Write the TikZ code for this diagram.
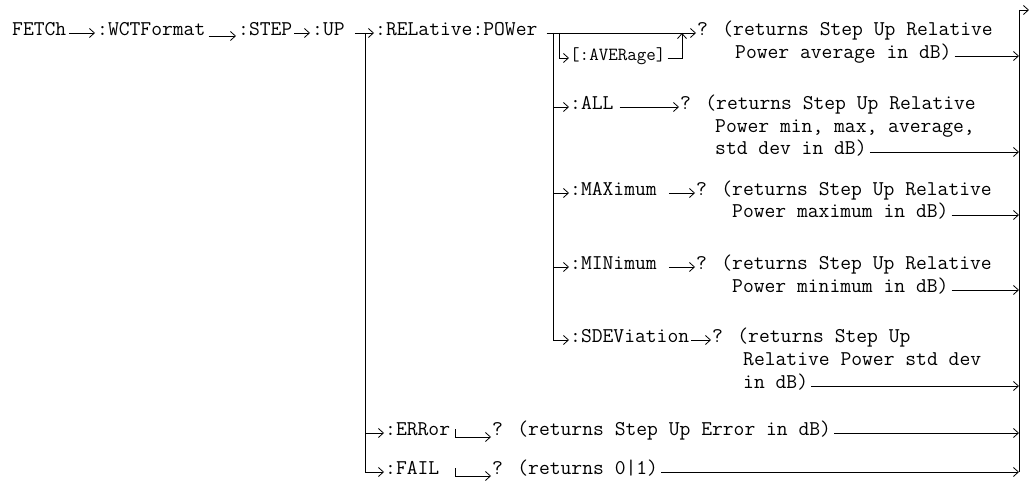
\documentclass[tikz,border=0pt]{standalone}
\usepackage{fontspec}
\usetikzlibrary{arrows.meta}
\begin{document}
\begin{tikzpicture}[x=1pt,y=-1pt,
  txt/.style={inner sep=0pt, anchor=mid west, font=\ttfamily\fontsize{21}{24}\selectfont},
  sml/.style={txt, font=\ttfamily\fontsize{18.5}{22}\selectfont},
  ln/.style={line width=0.8pt},
  conn/.style={ln, -{Straight Barb[length=5pt,width=9pt,line width=0.8pt]}}]
\useasboundingbox (0,0) rectangle (1029,497);
% row 1
\node[txt] (fetch) at (12,33) {FETCh};
\node[txt] (wct) at (97,33) {:WCTFormat};
\node[txt] (step) at (238,33) {:STEP};
\node[txt] (up) at (312,33) {:UP};
\node[txt] (rel) at (375,33) {:RELative:POWer};
\node[txt] (q1) at (697,33) {? (returns Step Up Relative};
\node[txt] (q1b) at (735,56) {Power average in dB)};
\node[sml] (avg) at (570,58) {[:AVERage]};
% ALL
\node[txt] (all) at (570,107) {:ALL};
\node[txt] (q2) at (680,107) {? (returns Step Up Relative};
\node[txt] (q2b) at (715,130) {Power min, max, average,};
\node[txt] (q2c) at (715,152) {std dev in dB)};
% MAX
\node[txt] (max) at (570,193) {:MAXimum};
\node[txt] (q3) at (696,193) {? (returns Step Up Relative};
\node[txt] (q3b) at (732,215) {Power maximum in dB)};
% MIN
\node[txt] (min) at (570,267) {:MINimum};
\node[txt] (q4) at (696,267) {? (returns Step Up Relative};
\node[txt] (q4b) at (732,290) {Power minimum in dB)};
% SDEV
\node[txt] (sdev) at (570,340) {:SDEViation};
\node[txt] (q5) at (712,340) {? (returns Step Up};
\node[txt] (q5b) at (743,363) {Relative Power std dev};
\node[txt] (q5c) at (743,386) {in dB)};
% ERR / FAIL
\node[txt] (err) at (385,433) {:ERRor};
\node[txt] (q6) at (492,433) {? (returns Step Up Error in dB)};
\node[txt] (fail) at (385,472) {:FAIL};
\node[txt] (q7) at (492,472) {? (returns 0|1)};

% coordinates
\coordinate (vL) at (365,33);
\coordinate (vLb) at (365,472);
\coordinate (vM) at (553,33);
\coordinate (vMb) at (553,340);
\coordinate (vA) at (559,33);
\coordinate (avgUp) at (682,33);
\coordinate (tick) at (455,433);
\coordinate (busTop) at (1019,10);
\coordinate (busOut) at (1029,10);
\coordinate (busBot) at (1019,472);

% row 1 arrows
\draw[conn] ([xshift=3pt]fetch.mid east) -- ([xshift=-2pt]wct.mid west);
\draw[conn] ([xshift=3pt,yshift=-3pt]wct.mid east) -- ([xshift=-2pt,yshift=-3pt]step.mid west);
\draw[conn] ([xshift=2pt]step.mid east) -- ([xshift=-2pt]up.mid west);
\draw[conn] ([xshift=10pt]up.mid east) -- ([xshift=-1pt]rel.mid west);
\draw[conn] ([xshift=9pt]rel.mid east) -- ([xshift=-1pt]q1.mid west);

% left vertical
\draw[ln] (vL) -- (vLb);
\draw[conn] (vL |- err.mid west) -- ([xshift=-1pt]err.mid west);
\draw[conn] (vLb) -- ([xshift=-1pt]fail.mid west);
\draw[conn] ([yshift=4pt]tick) |- ([xshift=-1pt,yshift=-4pt]q6.mid west);
\draw[conn] ([yshift=4pt]tick |- fail.mid east) |- ([xshift=-1pt,yshift=-4pt]q7.mid west);

% middle verticals
\draw[ln] (vM) -- (vMb);
\draw[conn] (vA) |- ([xshift=-1pt]avg.mid west);
\draw[conn] ([xshift=2pt]avg.mid east) -| (avgUp);
\draw[conn] (vM |- all.mid west) -- ([xshift=-1pt]all.mid west);
\draw[conn] (vM |- max.mid west) -- ([xshift=-1pt]max.mid west);
\draw[conn] (vM |- min.mid west) -- ([xshift=-1pt]min.mid west);
\draw[conn] (vMb) -- ([xshift=-1pt]sdev.mid west);
\draw[conn] ([xshift=6pt]all.mid east) -- ([xshift=-1pt]q2.mid west);
\draw[conn] ([xshift=12pt]max.mid east) -- ([xshift=-1pt]q3.mid west);
\draw[conn] ([xshift=12pt]min.mid east) -- ([xshift=-1pt]q4.mid west);
\draw[conn] ([xshift=2pt]sdev.mid east) -- ([xshift=-1pt]q5.mid west);

% right bus
\draw[ln] (busTop) -- (busBot);
\draw[conn] (busTop) -- (busOut);
\draw[conn] ([xshift=3pt]q1b.mid east) -- (busTop |- q1b.mid east);
\draw[conn] ([xshift=3pt]q2c.mid east) -- (busTop |- q2c.mid east);
\draw[conn] ([xshift=3pt]q3b.mid east) -- (busTop |- q3b.mid east);
\draw[conn] ([xshift=3pt]q4b.mid east) -- (busTop |- q4b.mid east);
\draw[conn] ([xshift=3pt]q5c.mid east) -- (busTop |- q5c.mid east);
\draw[conn] ([xshift=3pt]q6.mid east) -- (busTop |- q6.mid east);
\draw[conn] ([xshift=3pt]q7.mid east) -- (busBot);
\end{tikzpicture}
\end{document}
